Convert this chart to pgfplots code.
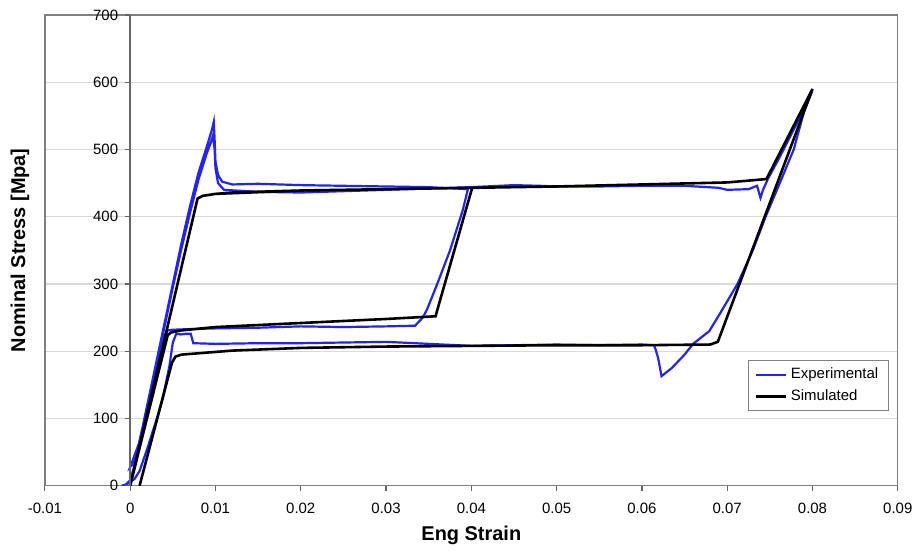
\documentclass[border=0pt]{standalone}
\usepackage{fontspec}
\setmainfont{Liberation Sans}
\usepackage{pgfplots}
\pgfplotsset{compat=1.18}
\definecolor{expblue}{RGB}{35,35,245}
\definecolor{gridgray}{RGB}{217,217,217}
\definecolor{framegray}{RGB}{128,128,128}

\begin{document}
\begin{tikzpicture}
% frame, grid, x axis, curves
\begin{axis}[
    name=main,
    scale only axis,
    width=427.5pt, height=236pt,
    xmin=-0.01, xmax=0.09, ymin=0, ymax=700,
    scaled x ticks=false,
    xtick={-0.01,0,0.01,0.02,0.03,0.04,0.05,0.06,0.07,0.08,0.09},
    xticklabels={-0.01,0,0.01,0.02,0.03,0.04,0.05,0.06,0.07,0.08,0.09},
    xtick pos=left,
    ytick={0,100,200,300,400,500,600,700},
    yticklabels={},
    ymajorgrids,
    grid style={gridgray, line width=0.7pt},
    axis line style={framegray, line width=0.7pt},
    tick align=outside,
    major tick length=2.5pt,
    xtick style={black!60, line width=0.6pt},
    ytick style={draw=none},
    xticklabel style={font=\fontsize{7.5}{9}\selectfont, anchor=center, yshift=-9pt},
    xlabel={\textbf{Eng Strain}},
    ylabel={\textbf{Nominal Stress [Mpa]}},
    every axis x label/.style={at={(rel axis cs:0.5,0)}, anchor=center, yshift=-25pt, font=\fontsize{10}{12}\selectfont},
    every axis y label/.style={at={(rel axis cs:0,0.5)}, anchor=center, rotate=90, yshift=12.5pt, font=\fontsize{10}{12}\selectfont},
    legend style={at={(rel axis cs:0.9895,0.159)}, anchor=south east, draw=framegray, line width=0.6pt,
        font=\fontsize{7.5}{9}\selectfont, inner xsep=3pt, inner ysep=1.5pt, row sep=0pt},
    legend cell align=left,
    legend image code/.code={\draw[#1] (0pt,0pt) -- (15pt,0pt);},
]
\addplot[expblue, line width=1.1pt] coordinates {
    (-0.0010,0) (-0.0005,2) (0.0000,8) (0.0005,30) (0.0010,60) (0.0020,120) (0.0030,180)
    (0.0040,240) (0.0050,300) (0.0060,360) (0.0070,415) (0.0080,465) (0.0090,505)
    (0.0096,530) (0.0098,541) (0.0099,515) (0.0100,482) (0.0103,462) (0.0108,452)
    (0.0120,448) (0.0150,449) (0.0200,447) (0.0250,446) (0.0300,445) (0.0350,444)
    (0.0396,441)
    (0.0390,410) (0.0375,350) (0.0360,300) (0.0348,262) (0.0343,250) (0.0334,238)
    (0.0300,237) (0.0250,236) (0.0200,237) (0.0150,235) (0.0100,234) (0.0070,233)
    (0.0050,232) (0.0044,231) (0.0040,222) (0.0030,170) (0.0020,115) (0.0010,60)
    (0.0003,32) (0.0000,28)
    (0.0010,62) (0.0020,118) (0.0030,176) (0.0040,235) (0.0050,295) (0.0060,352)
    (0.0070,405) (0.0080,455) (0.0090,495) (0.0095,512) (0.0097,520) (0.0099,500)
    (0.0100,472) (0.0103,450) (0.0110,440) (0.0150,437) (0.0200,436) (0.0250,438)
    (0.0300,440) (0.0350,442) (0.0400,444) (0.0450,447) (0.0480,446) (0.0500,445)
    (0.0550,445) (0.0600,446) (0.0650,446) (0.0690,443) (0.0700,440) (0.0725,441)
    (0.0735,446) (0.0739,428) (0.0742,440) (0.0748,457) (0.0760,485) (0.0775,522)
    (0.0790,560) (0.0800,588)
    (0.0790,556) (0.0778,500) (0.0760,445) (0.0745,400) (0.0730,350) (0.0712,300)
    (0.0691,255) (0.0679,230) (0.0660,211) (0.0650,195) (0.0635,175) (0.0623,163)
    (0.0619,190) (0.0616,203) (0.0614,209) (0.0600,210) (0.0550,209) (0.0500,210)
    (0.0450,209) (0.0400,208) (0.0350,211) (0.0300,214) (0.0250,213) (0.0200,212)
    (0.0150,212) (0.0100,211) (0.0074,212) (0.0071,226) (0.0065,226) (0.0060,225)
    (0.0054,226) (0.0050,213) (0.0046,178) (0.0038,129) (0.0030,95) (0.0020,55)
    (0.0011,22) (0.0005,10) (0.0000,6) (-0.0005,1) (-0.0010,0)
};
\addlegendentry{Experimental}
\addplot[black, line width=1.3pt] coordinates {
    (0.0000,0) (0.0079,427) (0.0085,431) (0.0100,434) (0.0120,436) (0.0200,439)
    (0.0300,441) (0.0401,443)
    (0.0358,252) (0.0300,248) (0.0200,242) (0.0100,236) (0.0060,231) (0.0048,228)
    (0.0044,224) (0.0000,0)
    (0.0079,427) (0.0085,431) (0.0100,434) (0.0200,439) (0.0300,441) (0.0401,443)
    (0.0500,445) (0.0600,448) (0.0700,451) (0.0746,456) (0.0800,590)
    (0.0689,214) (0.0680,210) (0.0600,209) (0.0500,209) (0.0400,208) (0.0300,207)
    (0.0200,205) (0.0120,201) (0.0080,197) (0.0060,195) (0.0053,192) (0.0049,183)
    (0.0011,0)
};
\addlegendentry{Simulated}
\end{axis}
% vertical axis at x = 0 with its tick labels
\begin{axis}[
    scale only axis,
    width=427.5pt, height=236pt,
    xmin=-0.01, xmax=0.09, ymin=0, ymax=700,
    axis x line=none,
    axis y line=middle,
    hide obscured y ticks=false,
    y axis line style={-, black!60, line width=0.7pt},
    xtick=\empty,
    ytick={0,100,200,300,400,500,600,700},
    tick align=outside,
    major tick length=2.5pt,
    ytick style={black!60, line width=0.6pt},
    /pgf/number format/assume math mode=true,
    yticklabel style={font=\fontsize{7.5}{9}\selectfont, anchor=east, xshift=0pt},
]
\end{axis}
\path ([xshift=-22.5pt,yshift=-32.5pt]main.south west) rectangle ([xshift=9.5pt,yshift=7.5pt]main.north east);
\end{tikzpicture}
\end{document}
